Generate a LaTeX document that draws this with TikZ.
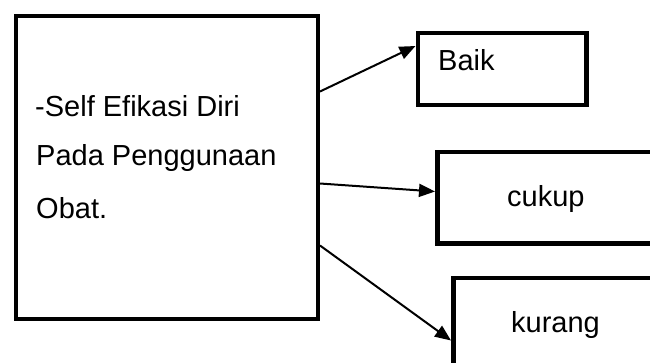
\documentclass[tikz,border=0pt]{standalone}
\usepackage{fontspec}
\setmainfont{Liberation Sans}
\usetikzlibrary{arrows.meta,calc}
\begin{document}
\begin{tikzpicture}[x=1pt,y=-1pt,
  frame/.style={draw, line width=4.5pt, rectangle, inner sep=0pt, anchor=north west},
  lbl/.style={anchor=base west, inner sep=0pt, font=\fontsize{29}{51}\selectfont},
  link/.style={line width=2pt, -{Triangle[length=16pt,width=13pt]}}]
\useasboundingbox (0,0) rectangle (650,362);
\clip (0,0) rectangle (650,362);

% boxes
\node[frame, minimum width=302pt, minimum height=303pt] (src) at (13.5,13.5) {};
\node[frame, minimum width=168.5pt, minimum height=72pt] (baik) at (415.5,30.5) {};
\node[frame, minimum width=223pt, minimum height=91.5pt] (cukup) at (435,149.5) {};
\node[frame, minimum width=210pt, minimum height=100pt] (kurang) at (451,275.5) {};

% texts
\node[lbl] (l1) at (35,116) {-Self Efikasi Diri};
\node[lbl] (l2) at (36,165.5) {Pada Penggunaan};
\node[lbl] (l3) at (36,218) {Obat.};
\node[lbl] (tb) at (438,70) {Baik};
\node[lbl] (tc) at (507,206.5) {cukup};
\node[lbl] (tk) at (511,332) {kurang};

% connector ends
\coordinate (s1) at ($(src.north east)+(0,78)$);
\coordinate (s2) at ($(src.north east)+(0,170)$);
\coordinate (s3) at ($(src.north east)+(0,232)$);
\coordinate (e1) at ($(baik.north west)+(0,15.5)$);
\coordinate (e2) at ($(cukup.north west)+(0,42)$);
\coordinate (e3) at ($(kurang.north west)+(0,65)$);

\draw[link] (s1) -- (e1);
\draw[link] (s2) -- (e2);
\draw[link] (s3) -- (e3);
\end{tikzpicture}
\end{document}
